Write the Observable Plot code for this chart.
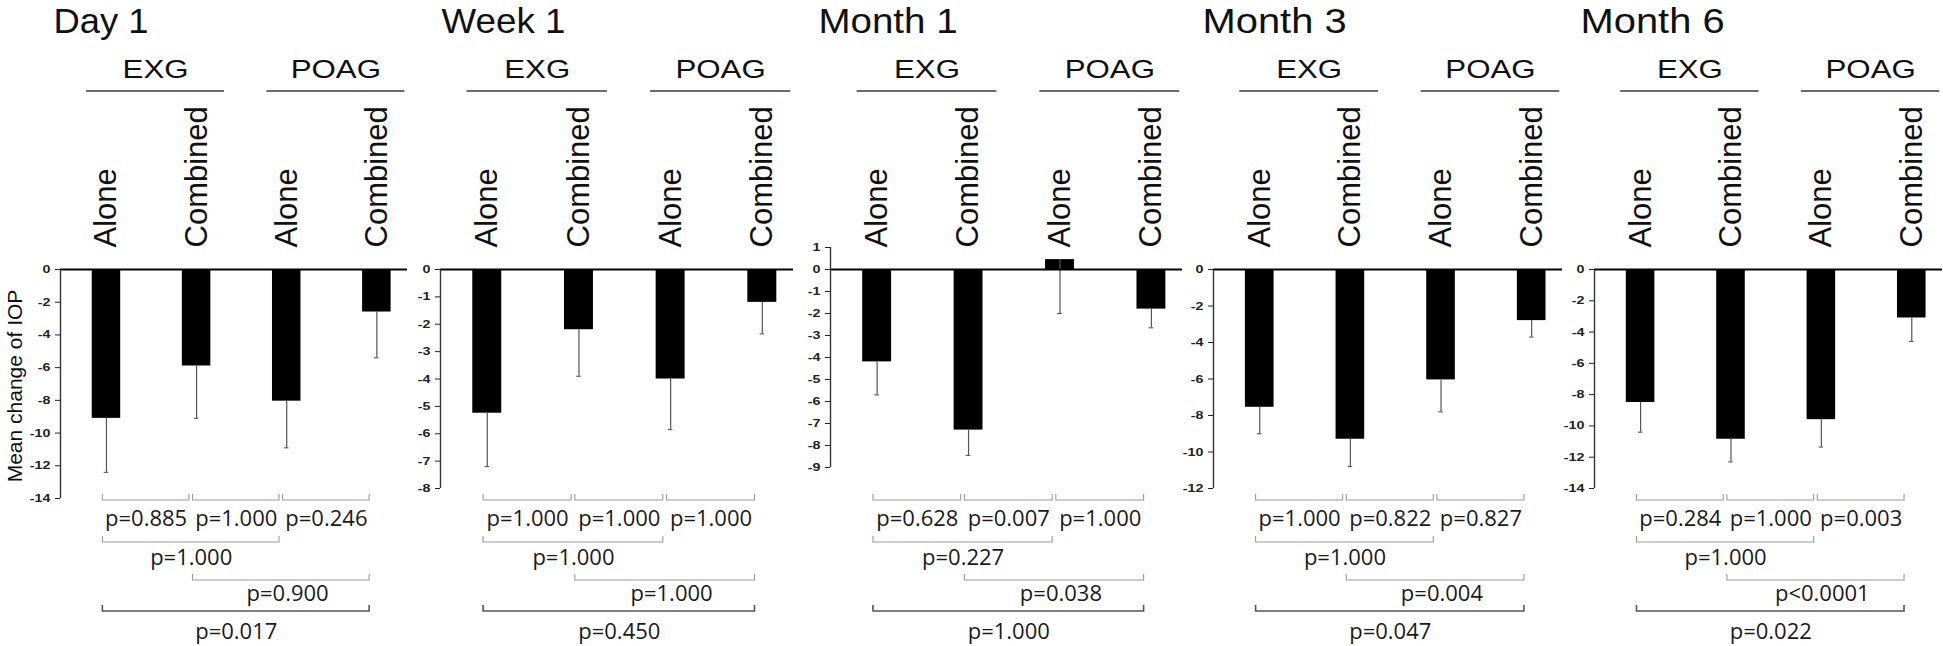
<!DOCTYPE html>
<html>
<head>
<meta charset="utf-8">
<script src="https://cdn.jsdelivr.net/npm/d3@7"></script>
<script src="https://cdn.jsdelivr.net/npm/@observablehq/plot@0.6"></script>
<style>
html, body { margin: 0; padding: 0; background: #fff; }
#chart { display: flex; flex-direction: row; width: 1943px; height: 646px; overflow: hidden; }
#chart svg { display: block; flex: none; max-width: none; }
</style>
</head>
<body>
<div id="chart"></div>
<script>
// ---------------- DATA ----------------
const timepoints = ["Day 1", "Week 1", "Month 1", "Month 3", "Month 6"];
const diagnoses = ["EXG", "POAG"];
const treatments = ["Alone", "Combined", "Alone", "Combined"];
const diagnosisOfBar = ["EXG", "EXG", "POAG", "POAG"];
const yAxisTitle = "Mean change of IOP";

const meanDay1 = [-9.1, -5.9, -8.05, -2.6];
const sdDay1 = [3.3, 3.2, 2.85, 2.8];
const meanWeek1 = [-5.25, -2.2, -4.0, -1.2];
const sdWeek1 = [1.95, 1.7, 1.85, 1.15];
const meanMonth1 = [-4.2, -7.3, 0.45, -1.8];
const sdMonth1 = [1.5, 1.15, 2.45, 0.85];
const meanMonth3 = [-7.55, -9.3, -6.05, -2.8];
const sdMonth3 = [1.45, 1.5, 1.75, 0.9];
const meanMonth6 = [-8.5, -10.85, -9.6, -3.1];
const sdMonth6 = [1.9, 1.45, 1.75, 1.5];

const ticksDay1 = [0, -2, -4, -6, -8, -10, -12, -14];
const ticksWeek1 = [0, -1, -2, -3, -4, -5, -6, -7, -8];
const ticksMonth1 = [1, 0, -1, -2, -3, -4, -5, -6, -7, -8, -9];
const ticksMonth3 = [0, -2, -4, -6, -8, -10, -12];
const ticksMonth6 = [0, -2, -4, -6, -8, -10, -12, -14];

// comparisons: bar index pairs and bracket row
const comparisons = [[0, 1], [1, 2], [2, 3], [0, 2], [1, 3], [0, 3]];
const comparisonRow = [1, 1, 1, 2, 3, 4];
const pDay1 = ["p=0.885", "p=1.000", "p=0.246", "p=1.000", "p=0.900", "p=0.017"];
const pWeek1 = ["p=1.000", "p=1.000", "p=1.000", "p=1.000", "p=1.000", "p=0.450"];
const pMonth1 = ["p=0.628", "p=0.007", "p=1.000", "p=0.227", "p=0.038", "p=1.000"];
const pMonth3 = ["p=1.000", "p=0.822", "p=0.827", "p=1.000", "p=0.004", "p=0.047"];
const pMonth6 = ["p=0.284", "p=1.000", "p=0.003", "p=1.000", "p<0.0001", "p=0.022"];

const means = [meanDay1, meanWeek1, meanMonth1, meanMonth3, meanMonth6];
const sds = [sdDay1, sdWeek1, sdMonth1, sdMonth3, sdMonth6];
const tickSets = [ticksDay1, ticksWeek1, ticksMonth1, ticksMonth3, ticksMonth6];
const pSets = [pDay1, pWeek1, pMonth1, pMonth3, pMonth6];

// ---------------- LAYOUT / STYLE ----------------
const H = 646;
const L = {
  width: [407, 386, 389, 380, 381],
  marginLeft: [60, 33, 37, 31, 32],
  marginRight: [0, 0, 0, 0, 1],
  marginTop: [269, 269, 247, 269, 269],
  marginBottom: [148, 158, 179, 158, 158],
  titleDx: [-7, 1, -12, -11, -14],
  titleStretch: [1.04, 1.05, 1.1, 1.14, 1.14]
};
const XDOM = [-0.51, 3.34];
const BAR_HALF = 0.158;
const TITLE_BASE = 32, GROUP_BASE = 77, GROUP_LINE_Y = 91, LABEL_BOTTOM = 247;
const BRACKET_Y = [500, 542, 580, 611];
const P_BASE = [525, 564, 600, 638];
const SANS = "Liberation Sans, Arial, sans-serif";
const HUMAN = "Open Sans, sans-serif";

function stretchText(el, s) {
  const ax = parseFloat(el.getAttribute("x") || "0") || 0;
  const t = el.getAttribute("transform") || "";
  el.setAttribute("transform", `${t} translate(${ax},0) scale(${s},1) translate(${-ax},0)`);
}

const chart = document.getElementById("chart");

timepoints.forEach((tp, k) => {
  const bars = treatments.map((t, i) => ({
    i, treatment: t, diagnosis: diagnosisOfBar[i], mean: means[k][i], sd: sds[k][i]
  }));
  const ticks = tickSets[k];
  const yDom = d3.extent(ticks);
  const mt = L.marginTop[k];
  const fb = H - L.marginBottom[k];
  const comps = comparisons.map(([a, b], j) => ({
    a, b, row: comparisonRow[j], p: pSets[k][j]
  }));
  const groups = diagnoses.map((g) => {
    const idx = diagnosisOfBar.map((d, i) => d === g ? i : -1).filter(i => i >= 0);
    return { g, a: d3.min(idx), b: d3.max(idx) };
  });

  const groupLines = (index, scales) => {
    const g = d3.create("svg:g");
    for (const d of groups) {
      g.append("line")
        .attr("x1", scales.x(d.a - 0.22)).attr("x2", scales.x(d.b + 0.31))
        .attr("y1", GROUP_LINE_Y).attr("y2", GROUP_LINE_Y)
        .attr("stroke", "#3a3a3a").attr("stroke-width", 1.4);
    }
    return g.node();
  };

  const brackets = (index, scales) => {
    const g = d3.create("svg:g").attr("fill", "none");
    for (const c of comps) {
      const y = BRACKET_Y[c.row - 1];
      const x1 = scales.x(c.a - 0.04), x2 = scales.x(c.b - 0.08);
      g.append("path")
        .attr("d", `M${x1},${y - 6}V${y}H${x2}V${y - 6}`)
        .attr("stroke", c.row === 4 ? "#555" : "#9a9a9a")
        .attr("stroke-width", c.row === 4 ? 1.6 : 1.1);
    }
    return g.node();
  };

  const pTextMarks = [1, 2, 3, 4].map(row =>
    Plot.text(comps.filter(c => c.row === row), {
      x: c => ((c.a - 0.04) + (c.b - 0.08)) / 2 + (row === 3 ? 0.07 : 0),
      text: "p",
      frameAnchor: "bottom",
      dy: P_BASE[row - 1] - fb,
      lineAnchor: "bottom",
      textAnchor: "middle",
      fontFamily: HUMAN,
      fontSize: 22,
      fontWeight: "normal",
      fill: "#1a1a1a"
    })
  );

  const marks = [
    Plot.rect(bars, {
      x1: d => d.i - BAR_HALF, x2: d => d.i + BAR_HALF,
      y1: d => 0, y2: "mean", fill: "#000"
    }),
    Plot.ruleX(bars, { x: "i", y1: "mean", y2: d => d.mean - d.sd, stroke: "#555", strokeWidth: 1.2 }),
    Plot.ruleY(bars, { y: d => d.mean - d.sd, x1: d => d.i - 0.025, x2: d => d.i + 0.025, stroke: "#555", strokeWidth: 1.1 }),
    Plot.ruleY([0], { stroke: "#000", strokeWidth: 1.8 }),
    Plot.ruleX([XDOM[0]], { y1: yDom[0], y2: yDom[1], stroke: "#333", strokeWidth: 1.4 }),
    Plot.text([tp], {
      frameAnchor: "top-left", dx: L.titleDx[k], dy: TITLE_BASE - mt,
      textAnchor: "start", lineAnchor: "bottom",
      fontFamily: SANS, fontSize: 35, fontWeight: "normal", fill: "#111"
    }),
    Plot.text(groups, {
      x: d => (d.a + d.b) / 2 + 0.045, text: "g",
      frameAnchor: "top", dy: GROUP_BASE - mt, lineAnchor: "bottom", textAnchor: "middle",
      fontFamily: SANS, fontSize: 25, fontWeight: "normal", fill: "#111"
    }),
    groupLines,
    Plot.text(bars, {
      x: "i", text: "treatment",
      frameAnchor: "top", dy: LABEL_BOTTOM - mt, rotate: -90,
      textAnchor: "start", lineAnchor: "middle",
      fontFamily: SANS, fontSize: 31, fontWeight: "normal", fill: "#111"
    }),
    brackets,
    ...pTextMarks
  ];
  if (k === 0) {
    marks.push(Plot.text([yAxisTitle], {
      frameAnchor: "left", dx: 21 - L.marginLeft[k], dy: 2, rotate: -90,
      textAnchor: "middle", lineAnchor: "bottom",
      fontFamily: SANS, fontSize: 21, fontWeight: "normal", fill: "#111"
    }));
  }

  const svg = Plot.plot({
    width: L.width[k],
    height: H,
    marginLeft: L.marginLeft[k],
    marginRight: L.marginRight[k],
    marginTop: mt,
    marginBottom: L.marginBottom[k],
    style: { fontFamily: SANS, fontSize: "11px", fontWeight: "bold", color: "#222", background: "#fff" },
    x: { domain: XDOM, axis: null },
    y: { domain: yDom, ticks: ticks, tickFormat: d => String(d), tickSize: 5, tickPadding: 5, label: null },
    marks
  });

  svg.querySelectorAll('[aria-label="y-axis tick label"] text, [aria-label="y-axis"] .tick text')
    .forEach(el => stretchText(el, 1.3));
  svg.querySelectorAll("text").forEach(el => {
    if (diagnoses.includes(el.textContent)) stretchText(el, 1.25);
    if (el.textContent === tp) stretchText(el, L.titleStretch[k]);
  });
  chart.appendChild(svg);
});
</script>
</body>
</html>
